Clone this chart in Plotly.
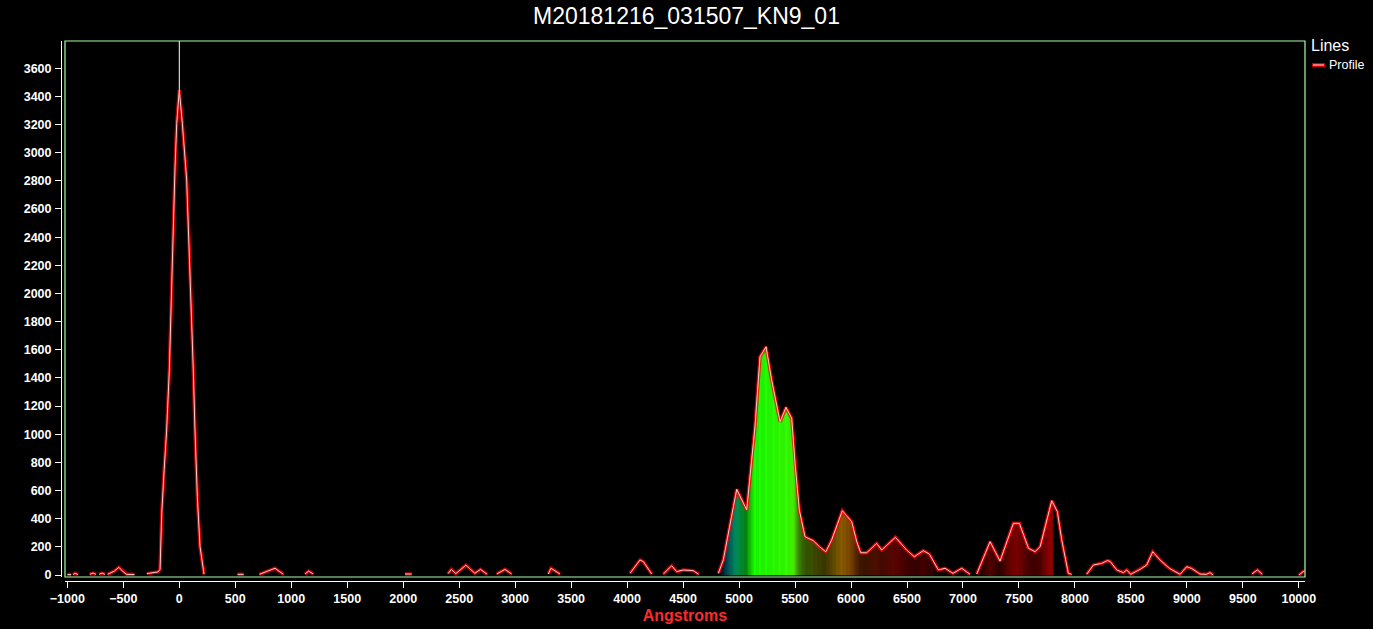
import numpy as np
import plotly.graph_objects as go

# ---------------- data ----------------
TITLE = "M20181216_031507_KN9_01"
X_TITLE = "Angstroms"
LEGEND_TITLE = "Lines"
SERIES_NAME = "Profile"

# wavelength (Angstroms); None marks a break in the profile line
profile_x = [
    -1000, -966, None,
    -949, -932, -904, None,
    -800, -770, -745, None,
    -715, -690, -665, None,
    -640, -580, -540, -500, -470, -420, -400, None,
    -290, -240, -190, -172, -157, -135, -113, -89, -74, -54, -38, -23, 0,
    27, 66, 89, 111, 125, 140, 161, 185, 221, None,
    520, 575, None,
    715, 795, 855, 930, None,
    1123, 1155, 1197, None,
    2016, 2076, None,
    2400, 2430, 2470, 2560, 2640, 2690, 2750, None,
    2835, 2909, 2969, None,
    3296, 3320, 3401, None,
    4026, 4115, 4145, 4220, None,
    4323, 4398, 4443, 4502, 4591, 4640, None,
    4815, 4859, 4979, 5068, 5142, 5187, 5241, 5291, 5366, 5419, 5470, 5500,
    5538, 5589, 5663, 5720, 5775, 5827, 5922, 6006, 6051, 6087, 6140, 6229,
    6274, 6397, 6497, 6565, 6646, 6700, 6780, 6840, 6910, 6989, 7063, None,
    7123, 7242, 7331, 7450, 7504, 7585, 7644, 7689, 7793, 7843, 7882, 7941,
    7971, None,
    8105, 8165, 8240, 8290, 8314, 8374, 8433, 8463, 8498, 8582, 8641, 8695,
    8760, 8843, 8939, 8998, 9042, 9117, 9176, 9206, 9236, None,
    9580, 9630, 9674, None,
    10000, 10050,
]
profile_y = [
    3, 3, None,
    3, 12, 3, None,
    5, 14, 5, None,
    5, 14, 5, None,
    5, 28, 55, 22, 5, 5, 3, None,
    10, 18, 22, 40, 438, 750, 1030, 1456, 1953, 2450, 2900, 3208, 3445,
    3208, 2805, 2332, 1859, 1456, 1030, 556, 201, 5, None,
    5, 5, None,
    5, 30, 48, 5, None,
    7, 28, 7, None,
    7, 7, None,
    10, 40, 10, 70, 12, 40, 5, None,
    7, 40, 7, None,
    7, 48, 7, None,
    12, 107, 95, 7, None,
    7, 66, 24, 36, 31, 5, None,
    12, 107, 609, 462, 1053, 1550, 1621, 1385, 1089, 1191, 1113, 793,
    462, 272, 244, 200, 165, 249, 457, 379, 237, 158, 158, 225,
    178, 268, 178, 130, 173, 149, 36, 48, 12, 48, 5, None,
    7, 237, 99, 367, 367, 190, 166, 201, 528, 450, 249, 12,
    5, None,
    5, 71, 83, 102, 97, 36, 17, 36, 5, 40, 71, 166,
    107, 48, 5, 59, 47, 7, 5, 17, 0, None,
    7, 36, 5, None,
    0, 31,
]

x_ticks = list(range(-1000, 10001, 500))
y_ticks = list(range(0, 3601, 200))
X_RANGE = [-1021, 10055]
Y_RANGE = [-14, 3793]

# visible-spectrum fill under the curve
FILL_START, FILL_END = 4800, 7800
spectrum_wl = [4800, 4900, 5000, 5100, 5450, 5600, 5800, 6000, 6200, 6500, 7800]
spectrum_rgb = [(0, 130, 255), (0, 210, 220), (0, 215, 110), (25, 255, 0),
                (55, 255, 0), (150, 240, 0), (255, 210, 0), (255, 140, 0),
                (255, 60, 0), (255, 0, 0), (255, 0, 0)]

# ---------------- figure ----------------
W, H = 1373, 629
M_L, M_R, M_T, M_B = 61, 68, 41, 48
PW, PH = W - M_L - M_R, H - M_T - M_B
FONT = "Liberation Sans, Arial, sans-serif"


def spec_color(lam, val):
    r = np.interp(lam, spectrum_wl, [c[0] for c in spectrum_rgb])
    g = np.interp(lam, spectrum_wl, [c[1] for c in spectrum_rgb])
    b = np.interp(lam, spectrum_wl, [c[2] for c in spectrum_rgb])
    k = min(1.0, max(val, 0) / 1000.0) ** 0.75
    return "rgb(%d,%d,%d)" % (r * k, g * k, b * k)


fig = go.Figure()

# spectrum-coloured area under the curve
for i in range(len(profile_x) - 1):
    x0, x1 = profile_x[i], profile_x[i + 1]
    y0, y1 = profile_y[i], profile_y[i + 1]
    if None in (x0, x1, y0, y1):
        continue
    a, b = max(x0, FILL_START), min(x1, FILL_END)
    if b <= a:
        continue
    n = max(1, int(np.ceil((b - a) / 12.0)))
    for k in range(n):
        xa = a + (b - a) * k / n
        xb = a + (b - a) * (k + 1) / n
        ya = y0 + (y1 - y0) * (xa - x0) / (x1 - x0)
        yb = y0 + (y1 - y0) * (xb - x0) / (x1 - x0)
        c = spec_color((xa + xb) / 2, (ya + yb) / 2)
        fig.add_trace(go.Scatter(
            x=[xa, xa, xb, xb, xa], y=[0, ya, yb, 0, 0],
            mode="lines", fill="toself", fillcolor=c,
            line=dict(color=c, width=0.6),
            hoverinfo="skip", showlegend=False))

# glow + core of the profile line
fig.add_trace(go.Scatter(
    x=profile_x, y=profile_y, mode="lines", connectgaps=False,
    line=dict(color="rgba(255,0,0,0.75)", width=3.5),
    name=SERIES_NAME, showlegend=False, hoverinfo="skip"))
fig.add_trace(go.Scatter(
    x=profile_x, y=profile_y, mode="lines", connectgaps=False,
    line=dict(color="#ffcaca", width=1),
    name=SERIES_NAME, showlegend=False))

peak_val = max(v for v in profile_y if v is not None)

shapes = [
    # zero-order marker line
    dict(type="line", xref="x", yref="y", x0=0, x1=0, y0=peak_val, y1=Y_RANGE[1],
         line=dict(color="white", width=1), layer="below"),
    # green plot frame
    dict(type="rect", xref="x domain", yref="y domain", x0=0, x1=1, y0=0, y1=1,
         line=dict(color="#a6ffa6", width=1.2)),
]


def px(xp):
    return (xp - M_L) / PW


def py(yp):
    return 1 - (yp - M_T) / PH


# legend drawn by hand (narrow right margin)
shapes.append(dict(type="line", xref="paper", yref="paper",
                   x0=px(1312), x1=px(1325), y0=py(65), y1=py(65),
                   line=dict(color="rgba(255,0,0,0.8)", width=4)))
shapes.append(dict(type="line", xref="paper", yref="paper",
                   x0=px(1313), x1=px(1324), y0=py(65), y1=py(65),
                   line=dict(color="#ff9a9a", width=1.5)))
annotations = [
    dict(text=LEGEND_TITLE, xref="paper", yref="paper", x=px(1309), y=py(45),
         xanchor="left", yanchor="middle", showarrow=False,
         font=dict(family=FONT, size=16, color="white")),
    dict(text=SERIES_NAME, xref="paper", yref="paper", x=px(1327), y=py(65),
         xanchor="left", yanchor="middle", showarrow=False,
         font=dict(family=FONT, size=12.5, color="white")),
]

axis_common = dict(showgrid=False, zeroline=False, showline=True, linecolor="white",
                   linewidth=1, ticks="outside", ticklen=6, tickcolor="white",
                   tickwidth=1, anchor="free", position=0, tickformat="d",
                   automargin=False,
                   tickfont=dict(family=FONT, size=12.5, color="white", weight="bold"))

fig.update_layout(
    width=W, height=H,
    margin=dict(l=M_L, r=M_R, t=M_T, b=M_B, autoexpand=False),
    paper_bgcolor="black", plot_bgcolor="black",
    showlegend=False,
    title=dict(text=TITLE, x=0.5, xref="container", xanchor="center",
               y=1 - 16 / H, yref="container", yanchor="middle",
               font=dict(family=FONT, size=23, color="white")),
    xaxis=dict(range=X_RANGE, domain=[4 / PW, 1], tickvals=x_ticks,
               title=dict(text=X_TITLE, standoff=4,
                          font=dict(family=FONT, size=16, color="#ff2a2a", weight="bold")),
               **axis_common),
    yaxis=dict(range=Y_RANGE, domain=[4 / PH, 1], tickvals=y_ticks,
               ticklabelstandoff=1, **axis_common),
    shapes=shapes, annotations=annotations,
)

fig.write_html(
    "out.html",
    config={"displayModeBar": False},
    post_script="document.body.style.margin='0';document.body.style.background='black';",
)
